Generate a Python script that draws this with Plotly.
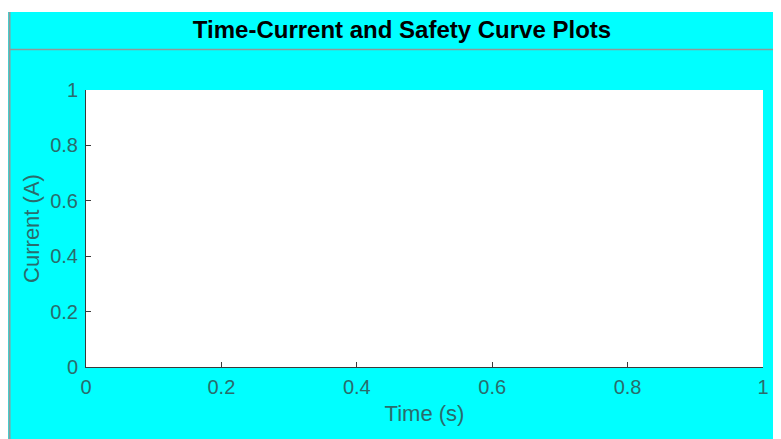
import plotly.graph_objects as go

# Data (empty axes: no series plotted)
time_s = []
current_a = []
x_ticks = [0, 0.2, 0.4, 0.6, 0.8, 1]
x_tick_labels = ["0", "0.2", "0.4", "0.6", "0.8", "1"]
y_ticks = [0, 0.2, 0.4, 0.6, 0.8, 1]
y_tick_labels = ["0", "0.2", "0.4", "0.6", "0.8", "1"]

# the page body has an 8px margin, so the figure is drawn at (8, 8)
OFF = 8
WIN_W, WIN_H = 781, 439
W, H = WIN_W - OFF, WIN_H - OFF
L, T = 86 - OFF, 90 - OFF
pw, ph = 677, 277
R = W - L - pw
B = H - T - ph


def px_x(p):
    # p: window pixel x
    return (p - OFF - L) / pw


def px_y(p):
    # p: window pixel y
    return (H - B - (p - OFF)) / ph


CYAN = "#00FFFF"
TXT = "#2a6c6c"
AX = "#3a3a3a"
GREY = "#8f9a9a"

fig = go.Figure()
fig.add_trace(go.Scatter(x=time_s, y=current_a, mode="lines", showlegend=False))

shapes = [
    # white strip on top
    dict(type="rect", xref="paper", yref="paper", x0=px_x(0), x1=px_x(WIN_W + 5),
         y0=px_y(12), y1=px_y(0), fillcolor="white", line=dict(width=0), layer="below"),
    # panel left border
    dict(type="line", xref="paper", yref="paper", x0=px_x(9.5), x1=px_x(9.5),
         y0=px_y(WIN_H + 5), y1=px_y(12), line=dict(color=GREY, width=2), layer="below"),
    # title separator line
    dict(type="line", xref="paper", yref="paper", x0=px_x(9.5), x1=px_x(WIN_W + 5),
         y0=px_y(49.5), y1=px_y(49.5), line=dict(color=GREY, width=1.5), layer="below"),
]

axis_common = dict(
    range=[0, 1],
    showgrid=False,
    zeroline=False,
    showline=True,
    linecolor=AX,
    linewidth=1,
    ticks="inside",
    ticklen=5,
    tickcolor=AX,
    tickwidth=1,
    mirror=False,
    tickfont=dict(family="Liberation Sans, Arial", size=20, color=TXT),
    fixedrange=True,
)

fig.update_layout(
    width=W,
    height=H,
    margin=dict(l=L, r=R, t=T, b=B, autoexpand=False),
    paper_bgcolor=CYAN,
    plot_bgcolor="white",
    shapes=shapes,
    title=dict(
        text="<b>Time-Current and Safety Curve Plots</b>",
        xref="container", yref="container",
        x=(402 - OFF) / W, y=1 - (30 - OFF) / H, xanchor="center", yanchor="middle",
        font=dict(family="Liberation Sans, Arial", size=24, color="black"),
    ),
    xaxis=dict(
        axis_common,
        tickvals=x_ticks,
        ticktext=x_tick_labels,
        ticklabelstandoff=2,
        title=dict(text="Time (s)", font=dict(family="Liberation Sans, Arial", size=22, color=TXT), standoff=8),
        automargin=False,
    ),
    yaxis=dict(
        axis_common,
        tickvals=y_ticks,
        ticktext=y_tick_labels,
        ticklabelstandoff=3,
        title=dict(text="Current (A)", font=dict(family="Liberation Sans, Arial", size=22, color=TXT), standoff=4),
        automargin=False,
    ),
    showlegend=False,
)

fig.write_html("out.html", config=dict(displayModeBar=False))
